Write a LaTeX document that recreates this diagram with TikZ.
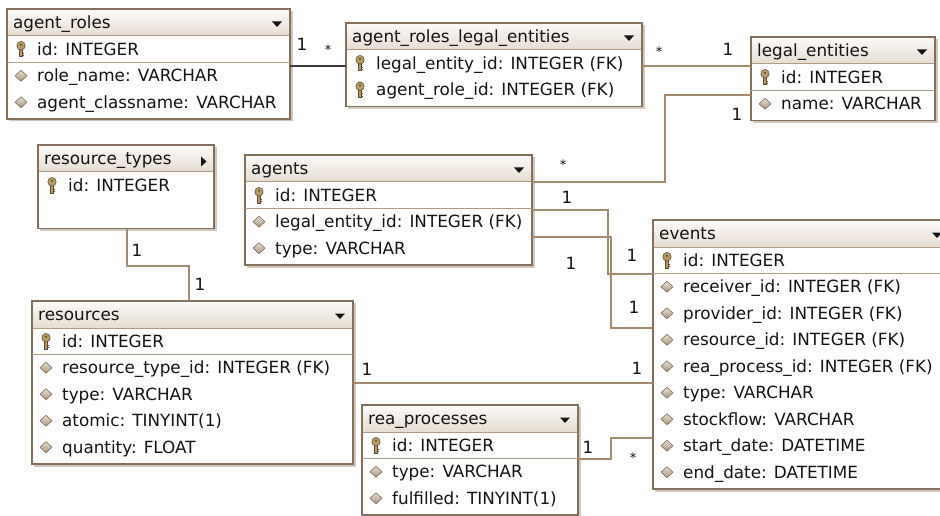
\documentclass[tikz,border=0pt]{standalone}
\usepackage{fontspec}
\setmainfont{DejaVu Sans}
\usetikzlibrary{fit}
\definecolor{boxc}{HTML}{84705A}
\definecolor{shadowc}{HTML}{CFC8BF}
\definecolor{sepc}{HTML}{B29C84}
\definecolor{hdtop}{HTML}{FCFBF9}
\definecolor{hdbot}{HTML}{E4DCD1}
\definecolor{linkc}{HTML}{A48A6E}
\definecolor{darklink}{HTML}{3C3C3C}
\definecolor{keyc}{HTML}{B49A62}
\definecolor{keyd}{HTML}{5C4B30}
\definecolor{diat}{HTML}{E6DED4}
\definecolor{diab}{HTML}{A8957E}
\definecolor{diad}{HTML}{7E6E5A}
\definecolor{txtc}{HTML}{141414}
\tikzset{
  rowtext/.style={anchor=base west, inner sep=0pt, font=\fontsize{16.8}{20}\selectfont, text=txtc},
  lbl/.style={anchor=base, inner sep=0pt, font=\fontsize{16.8}{20}\selectfont, text=txtc},
  starlbl/.style={anchor=base, inner sep=0pt, font=\fontsize{13}{15}\selectfont, text=txtc},
  link/.style={draw=linkc, line width=1.1pt},
  sepl/.style={draw=sepc, line width=1pt},
  frame/.style={draw=boxc, line width=1.7pt, inner sep=0pt, outer sep=0pt},
}
% #1 name, #2 L, #3 T, #4 R, #5 B, #6 title
\newcommand\tbl[6]{%
  \fill[shadowc] (#2+2,#3+2) rectangle (#4+2.5,#5+2.5);
  \fill[white] (#2,#3) rectangle (#4,#5);
  \shade[top color=hdtop, bottom color=hdbot] (#2,#3) rectangle (#4,#3+27);
  \draw[sepl] (#2,#3+27) -- (#4,#3+27);
  \node[rowtext] (#1-t) at (#2+6,#3+19.5) {#6};
  \node[frame, fit={(#2,#3) (#4,#5)}] (#1) {};
}
\newcommand\downarr[2]{\fill[txtc] (#1-18,#2+12.5) -- (#1-8,#2+12.5) -- (#1-13,#2+18) -- cycle;}
\newcommand\rightarr[2]{\fill[txtc] (#1-13,#2+11.5) -- (#1-7.5,#2+16.5) -- (#1-13,#2+21.5) -- cycle;}
\newcommand\sepline[3]{\draw[sepl] (#1,#3) -- (#2,#3);}
% #1 name, #2 L, #3 cy, #4 text
\newcommand\krow[4]{%
  \begin{scope}[shift={(#2+14,#3)}]
    \filldraw[fill=keyc, draw=keyd, line width=0.5pt] (-1.5,-1) rectangle (1.5,7.5);
    \filldraw[fill=keyc, draw=keyd, line width=0.5pt] (0,-3.5) ellipse [x radius=4.2, y radius=4.4];
    \fill[keyd] (0,-4.5) circle [radius=1.1];
    \fill[keyd] (1.5,3.5) rectangle (3.2,4.7);
    \fill[keyd] (1.5,5.9) rectangle (2.8,7.1);
  \end{scope}
  \node[rowtext] (#1) at (#2+30,#3+6) {#4};
}
\newcommand\arow[4]{%
  \shadedraw[top color=diat, bottom color=diab, draw=diad, line width=0.6pt] (#2+8,#3) -- (#2+14,#3-5.5) -- (#2+20,#3) -- (#2+14,#3+5.5) -- cycle;
  \node[rowtext] (#1) at (#2+30,#3+6) {#4};
}
\begin{document}
\begin{tikzpicture}[x=1pt,y=-1pt]
\useasboundingbox (0,0) rectangle (940,516);
\clip (0,0) rectangle (940,516);
\fill[white] (0,0) rectangle (940,516);

\coordinate (b1) at (300,66);
\coordinate (b2) at (700,66);
\coordinate (b3a) at (665,95);
\coordinate (b3b) at (665,182);
\coordinate (b4a) at (608,210);
\coordinate (b4b) at (608,274);
\coordinate (b5a) at (611,237);
\coordinate (b5b) at (611,328);
\coordinate (b6) at (500,383);
\coordinate (b7a) at (611,459);
\coordinate (b7b) at (611,438);
\coordinate (b8a) at (127,266);
\coordinate (b8b) at (189,266);

% agent_roles
\tbl{ar}{7}{9}{290}{119}{agent\_roles}
\downarr{290}{9}
\krow{ar1}{7}{49.25}{id: INTEGER}
\sepline{7}{290}{62.5}
\arow{ar2}{7}{75.75}{role\_name: VARCHAR}
\arow{ar3}{7}{102.25}{agent\_classname: VARCHAR}

% agent_roles_legal_entities
\tbl{arle}{346}{23}{642}{106.5}{agent\_roles\_legal\_entities}
\downarr{642}{23}
\krow{arle1}{346}{63.25}{legal\_entity\_id: INTEGER (FK)}
\krow{arle2}{346}{89.75}{agent\_role\_id: INTEGER (FK)}

% legal_entities
\tbl{le}{751}{37}{935}{120.5}{legal\_entities}
\downarr{935}{37}
\krow{le1}{751}{77.25}{id: INTEGER}
\sepline{751}{935}{90.5}
\arow{le2}{751}{103.75}{name: VARCHAR}

% resource_types
\tbl{rt}{38}{145}{214}{228.5}{resource\_types}
\rightarr{214}{145}
\krow{rt1}{38}{185.25}{id: INTEGER}

% agents
\tbl{ag}{245}{155}{532}{265}{agents}
\downarr{532}{155}
\krow{ag1}{245}{195.25}{id: INTEGER}
\sepline{245}{532}{208.5}
\arow{ag2}{245}{221.75}{legal\_entity\_id: INTEGER (FK)}
\arow{ag3}{245}{248.25}{type: VARCHAR}

% events
\tbl{ev}{653}{220}{950}{489}{events}
\downarr{950}{220}
\krow{ev1}{653}{260.25}{id: INTEGER}
\sepline{653}{950}{273.5}
\arow{ev2}{653}{286.75}{receiver\_id: INTEGER (FK)}
\arow{ev3}{653}{313.25}{provider\_id: INTEGER (FK)}
\arow{ev4}{653}{339.75}{resource\_id: INTEGER (FK)}
\arow{ev5}{653}{366.25}{rea\_process\_id: INTEGER (FK)}
\arow{ev6}{653}{392.75}{type: VARCHAR}
\arow{ev7}{653}{419.25}{stockflow: VARCHAR}
\arow{ev8}{653}{445.75}{start\_date: DATETIME}
\arow{ev9}{653}{472.25}{end\_date: DATETIME}

% resources
\tbl{rs}{32}{301}{353}{464}{resources}
\downarr{353}{301}
\krow{rs1}{32}{341.25}{id: INTEGER}
\sepline{32}{353}{354.5}
\arow{rs2}{32}{367.75}{resource\_type\_id: INTEGER (FK)}
\arow{rs3}{32}{394.25}{type: VARCHAR}
\arow{rs4}{32}{420.75}{atomic: TINYINT(1)}
\arow{rs5}{32}{447.25}{quantity: FLOAT}

% rea_processes
\tbl{rp}{362}{405}{578}{515}{rea\_processes}
\downarr{578}{405}
\krow{rp1}{362}{445.25}{id: INTEGER}
\sepline{362}{578}{458.5}
\arow{rp2}{362}{471.75}{type: VARCHAR}
\arow{rp3}{362}{498.25}{fulfilled: TINYINT(1)}

% connectors
\draw[link, draw=darklink] (ar.east |- b1) -- (arle.west |- b1);
\draw[link] (arle.east |- b2) -- (le.west |- b2);
\draw[link] (le.west |- b3a) -- (b3a) -- (b3b) -- (ag.east |- b3b);
\draw[link] (ag.east |- b4a) -- (b4a) -- (b4b) -- (ev.west |- b4b);
\draw[link] (ag.east |- b5a) -- (b5a) -- (b5b) -- (ev.west |- b5b);
\draw[link] (rs.east |- b6) -- (ev.west |- b6);
\draw[link] (rp.east |- b7a) -- (b7a) -- (b7b) -- (ev.west |- b7b);
\draw[link] (rt.south -| b8a) -- (b8a) -- (b8b) -- (rs.north -| b8b);

% multiplicities
\node[lbl] (m1) at (302,51) {1};
\node[starlbl] (m2) at (328,55) {*};
\node[starlbl] (m3) at (659,57) {*};
\node[lbl] (m4) at (728,56) {1};
\node[lbl] (m5) at (737,121) {1};
\node[starlbl] (m6) at (563,170) {*};
\node[lbl] (m7) at (567,203) {1};
\node[lbl] (m8) at (632,261) {1};
\node[lbl] (m9) at (571,269) {1};
\node[lbl] (m10) at (634,313) {1};
\node[lbl] (m11) at (367,375) {1};
\node[lbl] (m12) at (637,374) {1};
\node[lbl] (m13) at (588,453) {1};
\node[starlbl] (m14) at (633,462) {*};
\node[lbl] (m15) at (137,256) {1};
\node[lbl] (m16) at (200,290) {1};
\end{tikzpicture}
\end{document}
